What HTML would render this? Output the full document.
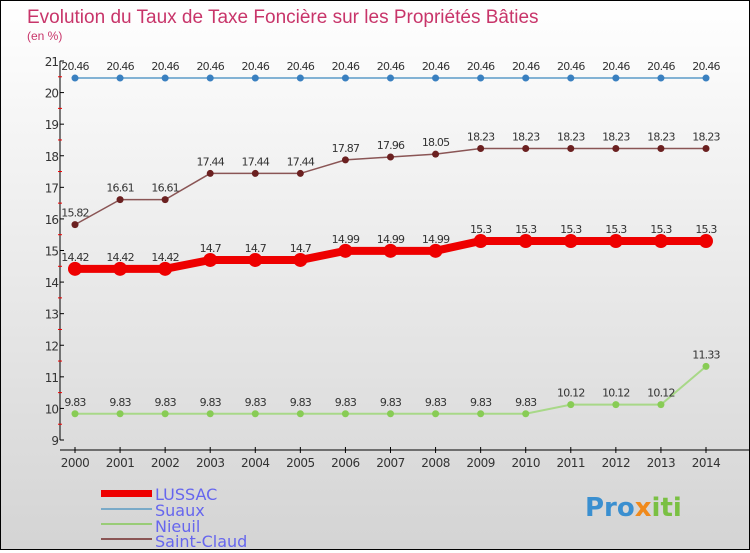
<!DOCTYPE html>
<html><head><meta charset="utf-8"><style>
html,body{margin:0;padding:0}
body{width:750px;height:550px;overflow:hidden;font-family:"DejaVu Sans","Liberation Sans",sans-serif}
#wrap{position:relative;width:748px;height:548px;border:1px solid #000;background:linear-gradient(#ffffff,#d4d4d4)}
</style></head><body>
<div id="wrap">
<svg id="chart" width="748" height="548" xmlns="http://www.w3.org/2000/svg">
<text x="26" y="22" font-size="19" fill="#c8356a" font-family="Liberation Sans, sans-serif">Evolution du Taux de Taxe Foncière sur les Propriétés Bâties</text>
<text x="26" y="39" font-size="12" fill="#c8356a" font-family="Liberation Sans, sans-serif">(en %)</text>
<g id="axes"></g><g id="series"></g>
<g>
<rect x="100" y="489" width="51" height="7" fill="#e00"/>
<text x="154" y="499" font-size="16" fill="#6666ee">LUSSAC</text>
<rect x="100" y="507" width="51" height="2" fill="#7aaac8"/>
<text x="154" y="515" font-size="16" fill="#6666ee">Suaux</text>
<rect x="100" y="522" width="51" height="2" fill="#99cc77"/>
<text x="154" y="531" font-size="16" fill="#6666ee">Nieuil</text>
<rect x="100" y="537" width="51" height="2" fill="#8a5555"/>
<text x="154" y="546" font-size="16" fill="#6666ee">Saint-Claud</text>
</g>
<text x="584" y="515" font-size="26" font-weight="bold" fill="#3a8fd0">Pro<tspan fill="#f08a1c">x</tspan><tspan fill="#7ac043">iti</tspan></text>
</svg></div>
<script>
const years=[2000,2001,2002,2003,2004,2005,2006,2007,2008,2009,2010,2011,2012,2013,2014];
const yTicks=[9,10,11,12,13,14,15,16,17,18,19,20,21];
const suaux=[20.46,20.46,20.46,20.46,20.46,20.46,20.46,20.46,20.46,20.46,20.46,20.46,20.46,20.46,20.46];
const saintClaud=[15.82,16.61,16.61,17.44,17.44,17.44,17.87,17.96,18.05,18.23,18.23,18.23,18.23,18.23,18.23];
const lussac=[14.42,14.42,14.42,14.7,14.7,14.7,14.99,14.99,14.99,15.3,15.3,15.3,15.3,15.3,15.3];
const nieuil=[9.83,9.83,9.83,9.83,9.83,9.83,9.83,9.83,9.83,9.83,9.83,10.12,10.12,10.12,11.33];
const NS="http://www.w3.org/2000/svg";
const X=i=>74+i*(705-74)/14;
const Y=v=>439-(v-9)*(439-60)/12;
function mk(t,a,p){const e=document.createElementNS(NS,t);for(const k in a)e.setAttribute(k,a[k]);p.appendChild(e);return e;}
const ax=document.getElementById('axes');
const yl=mk('line',{x1:59,y1:60,x2:59,y2:439,stroke:'#000'},ax);


const xl=mk('line',{x1:59,y1:449,x2:748,y2:449,stroke:'#000'},ax);


yTicks.forEach(v=>{
 mk('line',{x1:59,y1:Y(v),x2:63,y2:Y(v),stroke:'#000'},ax);
 if(v<21)mk('line',{x1:57,y1:Y(v+0.5),x2:61,y2:Y(v+0.5),stroke:'#e00'},ax);
 const t=mk('text',{x:57,y:Y(v)+5,'font-size':12,'text-anchor':'end',fill:'#333','letter-spacing':'-1'},ax);
 
 
 t.textContent=v;
});
years.forEach((y,i)=>{
 mk('line',{x1:X(i),y1:446,x2:X(i),y2:452,stroke:'#000'},ax);
 const t=mk('text',{x:X(i),y:466,'font-size':12,'text-anchor':'middle',fill:'#333','letter-spacing':'-0.5'},ax);
 
 
 t.textContent=y;
});
const sg=document.getElementById('series');
function series(vals,name,col,dot,w,r){
 const g=mk('g',{},sg);
 
 
 const p=mk('polyline',{points:vals.map((v,i)=>X(i)+','+Y(v)).join(' '),fill:'none',stroke:col,'stroke-width':w},g);
 
 
 vals.forEach((v,i)=>{
  const c=mk('circle',{cx:X(i),cy:Y(v),r:r,fill:dot},g);
  
  
  const t=mk('text',{x:X(i),y:Y(v)-8,'font-size':11,'text-anchor':'middle',fill:'#333','letter-spacing':'-0.8'},g);
  
  
  t.textContent=v;
 });
}
series(suaux,'suaux','#5a9ac8','#3a80c0',1.5,3.5);
series(saintClaud,'saint-claud','#8a5555','#6b2020',1.5,3.5);
series(nieuil,'nieuil','#a8d888','#88cc55',2,3.5);
series(lussac,'lussac','#ee0000','#ee0000',8,7);
</script>
</body></html>
